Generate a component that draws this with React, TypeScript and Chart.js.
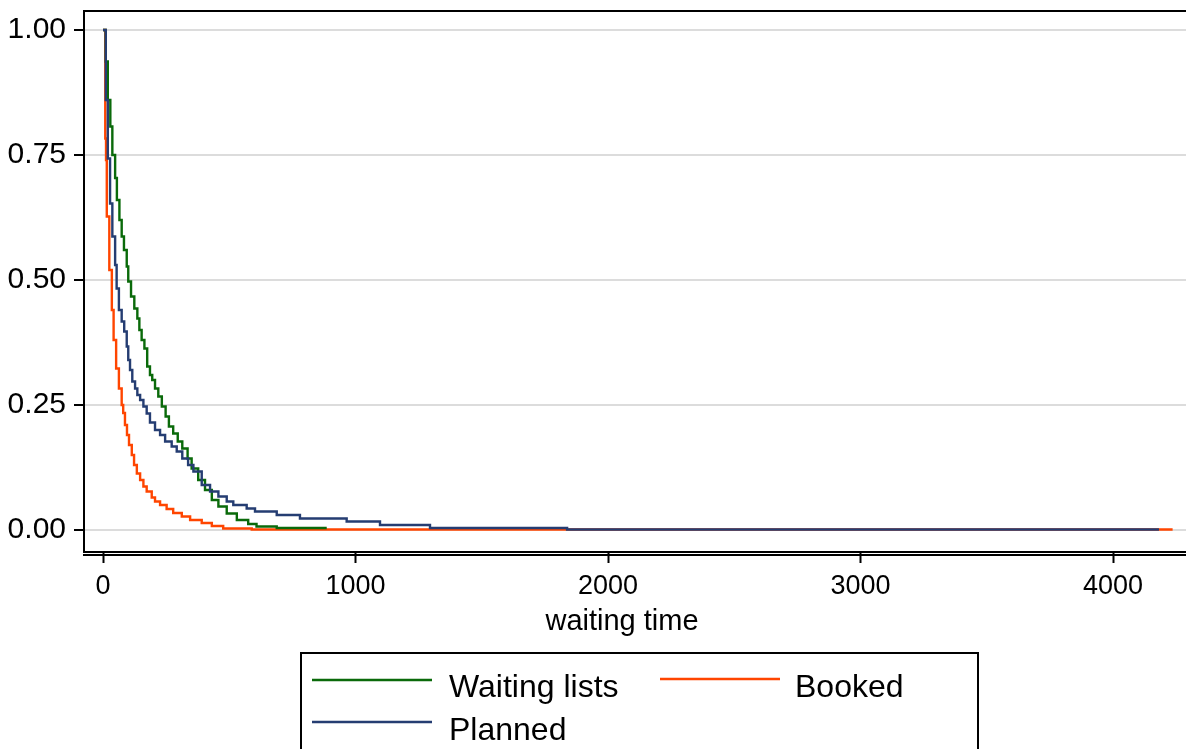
import React, { useEffect, useRef } from "react";
import { Chart, registerables } from "chart.js";

Chart.register(...registerables);

// ---- Data ----
const seriesLabels = ["Waiting lists", "Booked", "Planned"];
const seriesColors = ["#0a6a0a", "#ff4500", "#253d72"];

const waitingTimes = [0, 11, 19, 29, 37, 48, 55, 65, 74, 83, 94, 100, 111, 124, 136, 144, 153, 164, 175, 186, 195, 206, 219, 233, 248, 261, 278, 296, 314, 335, 351, 377, 404, 431, 457, 490, 530, 575, 608, 688, 886];
const waitingSurv = [1, 0.937, 0.86, 0.807, 0.75, 0.704, 0.66, 0.62, 0.587, 0.56, 0.527, 0.497, 0.467, 0.443, 0.423, 0.4, 0.38, 0.363, 0.327, 0.31, 0.3, 0.283, 0.267, 0.247, 0.227, 0.207, 0.193, 0.177, 0.163, 0.143, 0.123, 0.1, 0.08, 0.06, 0.047, 0.033, 0.02, 0.012, 0.007, 0.004, 0.004];

const bookedTimes = [0, 9, 12, 15, 25, 35, 42, 52, 63, 74, 80, 87, 95, 103, 114, 123, 134, 147, 160, 173, 193, 206, 226, 252, 278, 312, 345, 391, 431, 476, 589, 4236];
const bookedSurv = [1, 0.783, 0.74, 0.627, 0.52, 0.44, 0.38, 0.323, 0.283, 0.25, 0.234, 0.21, 0.19, 0.17, 0.15, 0.13, 0.113, 0.1, 0.087, 0.077, 0.065, 0.057, 0.05, 0.042, 0.034, 0.027, 0.02, 0.014, 0.008, 0.003, 0.001, 0.001];

const plannedTimes = [0, 11, 19, 28, 37, 48, 54, 63, 74, 84, 94, 100, 107, 116, 127, 136, 147, 160, 173, 186, 206, 226, 246, 272, 292, 314, 337, 358, 391, 424, 457, 490, 516, 569, 602, 688, 780, 965, 1097, 1295, 1838, 4182];
const plannedSurv = [1, 0.86, 0.743, 0.653, 0.587, 0.53, 0.483, 0.44, 0.417, 0.397, 0.367, 0.34, 0.32, 0.297, 0.283, 0.27, 0.26, 0.247, 0.233, 0.215, 0.2, 0.19, 0.177, 0.167, 0.157, 0.143, 0.13, 0.117, 0.09, 0.077, 0.067, 0.057, 0.05, 0.043, 0.037, 0.03, 0.023, 0.017, 0.01, 0.004, 0.001, 0.001];

const xTicks = [0, 1000, 2000, 3000, 4000];
const yTicks = [0, 0.25, 0.5, 0.75, 1];
const xTitle = "waiting time";

const FONT = '"Liberation Sans", Arial, Helvetica, sans-serif';

function toPoints(ts: number[], ss: number[]) {
  return ts.map((t, i) => ({ x: t, y: ss[i] }));
}

const framePlugin = {
  id: "stataFrame",
  afterDraw(chart: any) {
    const { ctx, chartArea } = chart;
    ctx.save();
    ctx.strokeStyle = "#000";
    ctx.lineWidth = 2;
    // top frame line
    ctx.beginPath();
    ctx.moveTo(chartArea.left - 1, chartArea.top);
    ctx.lineTo(chart.width, chartArea.top);
    ctx.stroke();
    // second (x-axis) line below the plot frame
    ctx.beginPath();
    ctx.moveTo(chartArea.left - 1, chartArea.bottom + 3);
    ctx.lineTo(chart.width, chartArea.bottom + 3);
    ctx.stroke();

    // x-axis title
    ctx.fillStyle = "#000";
    ctx.font = `29px ${FONT}`;
    ctx.textAlign = "center";
    ctx.textBaseline = "middle";
    ctx.fillText(xTitle, 622, 622);

    // legend box
    const ds = chart.data.datasets;
    ctx.lineWidth = 2;
    ctx.strokeStyle = "#000";
    ctx.strokeRect(301, 653, 677, 130);
    const entries = [
      { i: 0, lx: 312, ly: 680, tx: 449, ty: 688 },
      { i: 1, lx: 660, ly: 679, tx: 795, ty: 688 },
      { i: 2, lx: 312, ly: 722, tx: 449, ty: 731 },
    ];
    ctx.font = `32px ${FONT}`;
    ctx.textBaseline = "middle";
    ctx.textAlign = "left";
    entries.forEach((e) => {
      ctx.strokeStyle = ds[e.i].borderColor;
      ctx.lineWidth = 2.5;
      ctx.beginPath();
      ctx.moveTo(e.lx, e.ly);
      ctx.lineTo(e.lx + 120, e.ly);
      ctx.stroke();
      ctx.fillStyle = "#000";
      ctx.fillText(ds[e.i].label, e.tx, e.ty);
    });
    ctx.restore();
  },
};

export default function App() {
  const canvasRef = useRef<HTMLCanvasElement | null>(null);

  useEffect(() => {
    const canvas = canvasRef.current;
    if (!canvas) return;
    const series = [
      toPoints(waitingTimes, waitingSurv),
      toPoints(bookedTimes, bookedSurv),
      toPoints(plannedTimes, plannedSurv),
    ];
    const drawOrder = [1, 2, 0];
    const chart = new Chart(canvas, {
      type: "line",
      data: {
        datasets: series.map((pts, i) => ({
          label: seriesLabels[i],
          data: pts,
          borderColor: seriesColors[i],
          backgroundColor: seriesColors[i],
          borderWidth: 2.4,
          pointRadius: 0,
          stepped: "before" as const,
          fill: false,
          order: drawOrder[i],
        })),
      },
      options: {
        animation: false,
        responsive: false,
        devicePixelRatio: 1,
        layout: { padding: { top: 11, left: 0, right: 0, bottom: 0 } },
        plugins: {
          legend: { display: false },
          tooltip: { enabled: false },
          title: { display: false },
        },
        scales: {
          x: {
            type: "linear",
            min: -75.25,
            max: 4289,
            afterBuildTicks: (scale: any) => {
              scale.ticks = xTicks.map((v) => ({ value: v }));
            },
            afterFit: (scale: any) => {
              scale.height = 197;
              scale.paddingLeft = 0;
              scale.paddingRight = 0;
            },
            grid: {
              drawOnChartArea: false,
              drawTicks: true,
              tickLength: 11,
              tickColor: "#000",
              tickWidth: 2,
            },
            border: { display: true, color: "#000", width: 2 },
            ticks: {
              font: { family: FONT, size: 27 },
              color: "#000",
              padding: 7,
              maxRotation: 0,
              autoSkip: false,
              callback: (v: any) => String(v),
            },
            title: { display: false },
          },
          y: {
            type: "linear",
            min: -0.044,
            max: 1.038,
            afterBuildTicks: (scale: any) => {
              scale.ticks = yTicks.map((v) => ({ value: v }));
            },
            afterFit: (scale: any) => {
              scale.width = 84;
              scale.paddingTop = 0;
              scale.paddingBottom = 0;
            },
            grid: {
              drawOnChartArea: true,
              color: "#dcdcdc",
              lineWidth: 2,
              drawTicks: true,
              tickLength: 10,
              tickColor: "#000",
              tickWidth: 2,
            },
            border: { display: true, color: "#000", width: 2 },
            ticks: {
              font: { family: FONT, size: 30 },
              color: "#000",
              padding: 8,
              autoSkip: false,
              callback: (v: any) => Number(v).toFixed(2),
            },
          },
        },
      },
      plugins: [framePlugin],
    });
    return () => chart.destroy();
  }, []);

  return (
    <div style={{ position: "fixed", left: 0, top: 0, width: 1186, height: 749, background: "#fff" }}>
      <canvas ref={canvasRef} width={1186} height={749} style={{ display: "block", width: 1186, height: 749 }} />
    </div>
  );
}
